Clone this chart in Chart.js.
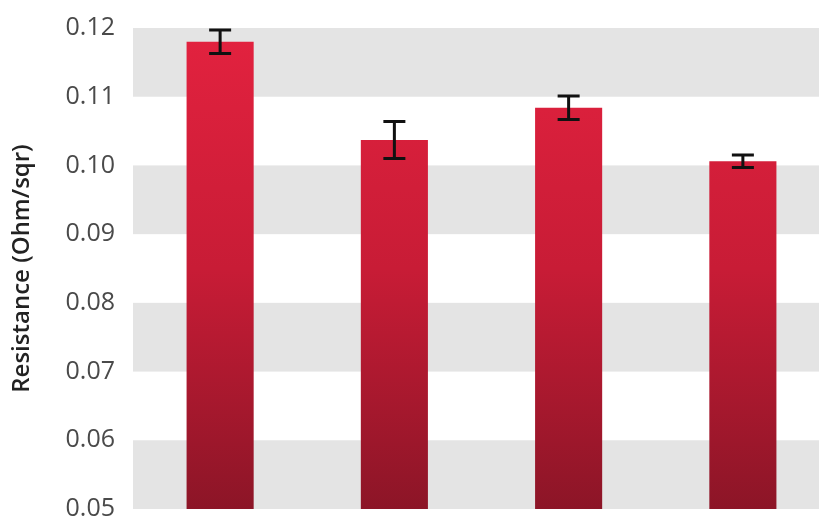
<!DOCTYPE html>
<html>
<head>
<meta charset="utf-8">
<script src="https://cdn.jsdelivr.net/npm/chart.js@4"></script>
<style>
  html, body { margin: 0; padding: 0; background: #fff; overflow: hidden; }
  #wrap { width: 830px; height: 525px; position: relative; }
</style>
</head>
<body>
<div id="wrap"><canvas id="chart"></canvas></div>
<script>
// values
const samples = ['A', 'B', 'C', 'D']
const resistance = [0.1180, 0.1037, 0.1084, 0.1006]
const errors = [0.0017, 0.0027, 0.0017, 0.0009]
const yTicks = [0.05, 0.06, 0.07, 0.08, 0.09, 0.10, 0.11, 0.12]

function barGradient(ctx){
    const chart = ctx.chart
    const area = chart.chartArea
    if(!area) return '#d81f3a'
    let g = chart.ctx.createLinearGradient(0, area.top, 0, area.bottom)
    g.addColorStop(0, '#e3223f')
    g.addColorStop(0.5, '#c81c36')
    g.addColorStop(1, '#8c1527')
    return g
}

// grey bands between every other tick
const bands = {
    id: 'bands',
    beforeDatasetsDraw(chart){
        const y = chart.scales.y
        const area = chart.chartArea
        const c = chart.ctx
        c.save()
        c.fillStyle = '#e4e4e4'
        for(let i = 0; i < yTicks.length - 1; i++){
            if(i % 2 !== 0) continue
            let top = y.getPixelForValue(yTicks[i + 1])
            let bot = y.getPixelForValue(yTicks[i])
            c.fillRect(area.left, top, area.right - area.left, bot - top)
        }
        c.restore()
    }
}

const errorBars = {
    id: 'errorBars',
    afterDatasetsDraw(chart){
        const y = chart.scales.y
        const meta = chart.getDatasetMeta(0)
        const c = chart.ctx
        c.save()
        c.strokeStyle = '#111'
        c.lineWidth = 3
        meta.data.forEach((bar, i) => {
            let hi = y.getPixelForValue(resistance[i] + errors[i])
            let lo = y.getPixelForValue(resistance[i] - errors[i])
            let x = bar.x
            c.beginPath()
            c.moveTo(x, hi); c.lineTo(x, lo)
            c.moveTo(x - 11, hi); c.lineTo(x + 11, hi)
            c.moveTo(x - 11, lo); c.lineTo(x + 11, lo)
            c.stroke()
        })
        c.restore()
    }
}

const data = {
    labels: samples,
    datasets: [{
        label: 'Resistance',
        data: resistance,
        backgroundColor: barGradient,
        borderWidth: 0,
        barPercentage: 0.385,
        categoryPercentage: 1
    }]
}

const config = {
    type: 'bar',
    data: data,
    options: {
        responsive: true,
        maintainAspectRatio: false,
        animation: false,
        layout: { padding: { top: 28, bottom: 16, right: 0, left: 0 } },
        plugins: { legend: { display: false }, tooltip: { enabled: false } },
        scales: {
            x: { display: false },
            y: {
                min: 0.05,
                max: 0.12,
                afterFit(scale){
                    scale.width = 133
                    scale.paddingTop = 0
                    scale.paddingBottom = 0
                },
                afterBuildTicks(scale){ scale.ticks = yTicks.map(v => ({ value: v })) },
                grid: { display: false, drawTicks: false },
                border: { display: false },
                ticks: {
                    padding: 18,
                    color: '#4a4a4a',
                    font: { family: 'Open Sans', size: 25 },
                    callback: v => v.toFixed(2)
                },
                title: {
                    display: true,
                    text: 'Resistance (Ohm/sqr)',
                    color: '#222',
                    font: { family: 'Open Sans', size: 24, weight: '600' },
                    padding: { top: 8, bottom: 4 }
                }
            }
        }
    },
    plugins: [bands, errorBars]
}

let ctx = document.getElementById('chart').getContext('2d')
new Chart(ctx, config)
</script>
</body>
</html>
